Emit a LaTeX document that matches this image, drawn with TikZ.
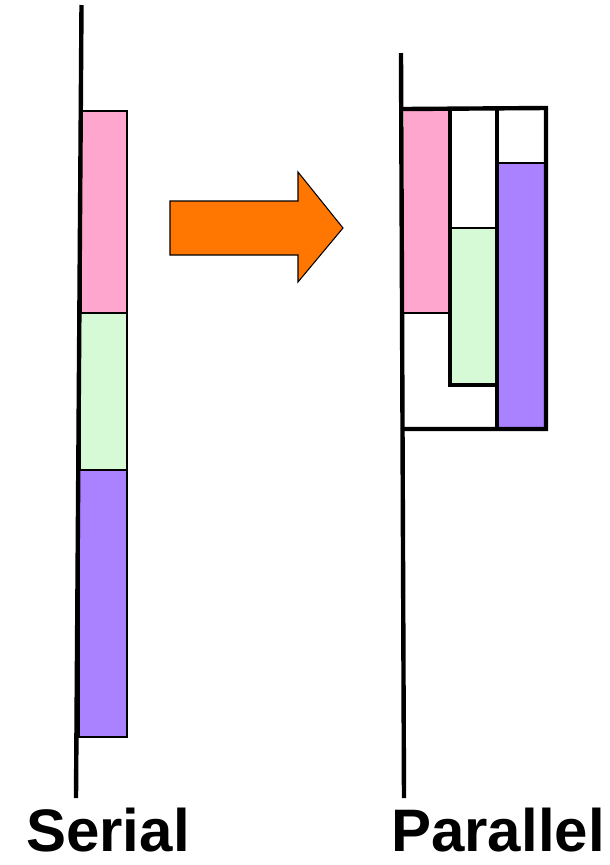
\documentclass[tikz,border=0pt]{standalone}
\usepackage{fontspec}
\setmainfont{Liberation Sans}
\definecolor{taskA}{RGB}{255,166,207}
\definecolor{taskB}{RGB}{214,250,214}
\definecolor{taskC}{RGB}{170,130,255}
\definecolor{arrowfill}{RGB}{255,119,0}
\begin{document}
\begin{tikzpicture}[x=0.75pt,y=-0.75pt,
  axis/.style={line width=3.3pt},
  frame/.style={line width=3.3pt, line cap=rect},
  block/.style={draw=black, line width=0.8pt},
  caption/.style={font=\fontsize{45}{52}\selectfont\bfseries, anchor=base, inner sep=0pt}]
\useasboundingbox (0,0) rectangle (610,865);

% ---- serial: tasks stacked one after another ----
\filldraw[block, fill=taskA] (81,111) rectangle (127,313);
\filldraw[block, fill=taskB] (80,313) rectangle (127,470);
\filldraw[block, fill=taskC] (79,470) rectangle (127,737);
\coordinate (sTop) at (81.5,5);
\coordinate (sBot) at (76,798);
\draw[axis] (sTop) -- (sBot);

% ---- transformation arrow ----
\filldraw[fill=arrowfill, draw=black, line width=0.8pt]
  (170,201) -- (298,201) -- (298,172) -- (343,228) -- (298,282)
  -- (298,255) -- (170,255) -- cycle;

% ---- parallel: tasks side by side ----
\fill[taskA] (404,110) rectangle (450,313);
\fill[taskB] (450,228) rectangle (497,385);
\fill[taskC] (497,163) rectangle (546,429);
\draw[block] (404,313) -- (450,313);
\draw[block] (450,228) -- (497,228);
\draw[block] (497,163) -- (546,163);
\draw[frame] (404,109) -- (546,108) -- (546,429) -- (404,429);
\draw[frame] (450,109) -- (450,385) -- (497,385);
\draw[frame] (497,108) -- (497,429);
\coordinate (pTop) at (401,53);
\coordinate (pBot) at (404,798);
\draw[axis] (pTop) -- (pBot);

% ---- labels ----
\node[caption] (serial) at (108,851) {Serial};
\node[caption] (parallel) at (498,851) {Parallel};
\end{tikzpicture}
\end{document}
